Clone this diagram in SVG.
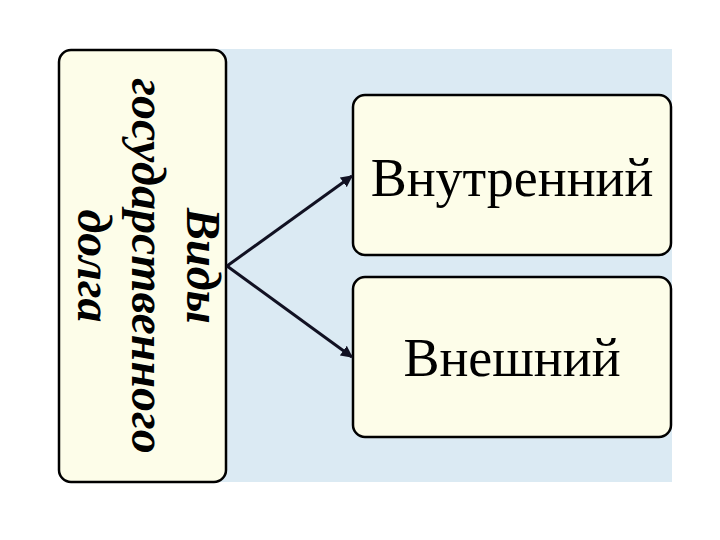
<svg xmlns="http://www.w3.org/2000/svg" width="720" height="540" viewBox="0 0 720 540">
  <defs>
    <style>
      .box { fill: #fdfde9; stroke: #000; stroke-width: 2.5; }
      .lbl { font-family: 'Liberation Serif', 'Times New Roman', Times, 'DejaVu Serif', serif; font-size: 54px; fill: #000; text-anchor: middle; }
      .vlbl { font-family: 'Liberation Serif', 'Times New Roman', Times, 'DejaVu Serif', serif; font-size: 48px; font-weight: bold; font-style: italic; fill: #000; text-anchor: middle; }
      .conn { stroke: #111122; stroke-width: 3; fill: none; }
    </style>
    <marker id="arr" viewBox="0 0 10 10" refX="9" refY="5" markerWidth="4" markerHeight="4" orient="auto" markerUnits="strokeWidth">
      <path d="M0,0 L10,5 L0,10 z" fill="#111122"/>
    </marker>
  </defs>
  <rect width="720" height="540" fill="#ffffff"/>
  <rect x="215" y="49" width="457" height="433" fill="#dbeaf3"/>
  <g id="node-root">
    <rect class="box" x="59" y="50" width="167" height="432" rx="12" ry="12"/>
    <text class="vlbl" transform="translate(187,266) rotate(90)" x="0" y="0">Виды</text>
    <text class="vlbl" transform="translate(132,266) rotate(90)" x="0" y="0">государственного</text>
    <text class="vlbl" transform="translate(78,266) rotate(90)" x="0" y="0">долга</text>
  </g>
  <g id="node-internal">
    <rect class="box" x="353" y="95" width="318" height="160" rx="12" ry="12"/>
    <text class="lbl" x="512" y="196">Внутренний</text>
  </g>
  <g id="node-external">
    <rect class="box" x="353" y="277" width="318" height="160" rx="12" ry="12"/>
    <text class="lbl" x="512" y="376">Внешний</text>
  </g>
  <g id="connectors">
    <line class="conn" x1="227" y1="266" x2="352" y2="176" marker-end="url(#arr)"/>
    <line class="conn" x1="227" y1="266" x2="352" y2="357" marker-end="url(#arr)"/>
  </g>
</svg>
